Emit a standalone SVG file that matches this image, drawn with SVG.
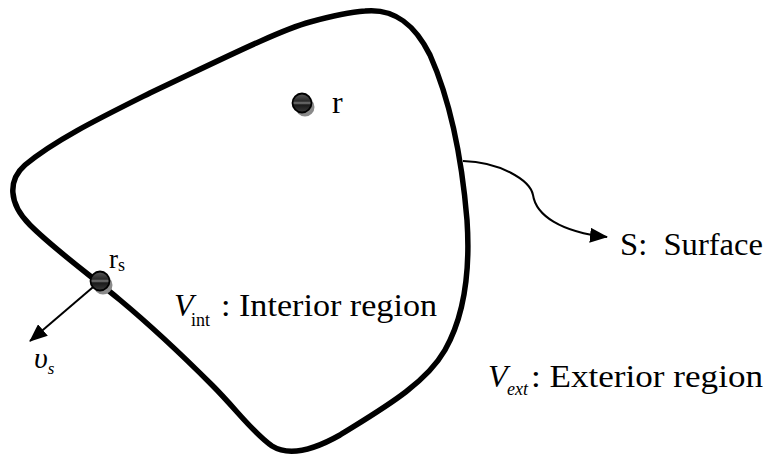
<svg xmlns="http://www.w3.org/2000/svg" width="769" height="456" viewBox="0 0 769 456">
<style>
.t{font-family:"Liberation Serif","Times New Roman",serif;fill:#000}
.i{font-style:italic}
.outline{fill:none;stroke:#000;stroke-width:5.5;stroke-linejoin:round}
.conn{fill:none;stroke:#000;stroke-width:2}
.dot{fill:url(#g);stroke:#000;stroke-width:1.8}
.shadow{fill:#8a8a8a}
</style>
<defs>
<linearGradient id="g" x1="0" y1="0" x2="0" y2="1">
<stop offset="0" stop-color="#5a5a5a"/>
<stop offset="0.4" stop-color="#2a2a2a"/>
<stop offset="0.5" stop-color="#777"/>
<stop offset="0.6" stop-color="#1a1a1a"/>
<stop offset="1" stop-color="#3a3a3a"/>
</linearGradient>
<marker id="ah" viewBox="0 0 18 15" refX="17" refY="7.5" markerWidth="18" markerHeight="15" markerUnits="userSpaceOnUse" orient="auto">
<path d="M0,0 L18,7.5 L0,15 Z" fill="#000"/>
</marker>
</defs>

<g id="surface">
<path class="outline" d="M365,11 C395,8 415,25 430,55 C450,100 462,160 467,220 C471,280 462,320 445,350 C425,385 380,410 340,435 C310,452 288,456 272,446 C252,432 237,410 212,385 C182,355 150,325 120,300 C90,275 55,250 30,225 C8,203 8,180 25,165 C55,140 100,118 150,93 C220,60 280,30 310,22 C335,15 350,12 365,11 Z"/>
</g>

<g id="connectors">
<path class="conn" d="M463,161 C500,162 530,180 533,195 C536,215 560,232 607,237" marker-end="url(#ah)"/>
<path class="conn" d="M99,282 L30,341" marker-end="url(#ah)"/>
</g>

<g id="point-r">
<circle class="shadow" cx="305" cy="107" r="9.5"/>
<circle class="dot" cx="302" cy="103" r="9.5"/>
<text class="t" x="332" y="113" font-size="32">r</text>
</g>

<g id="point-rs">
<circle class="shadow" cx="103" cy="285" r="9.5"/>
<circle class="dot" cx="100" cy="281" r="9.5"/>
<text class="t" x="109" y="268" font-size="27">r<tspan font-size="18" dy="3">s</tspan></text>
</g>

<g id="normal-label">
<text class="t i" x="34" y="368" font-size="30">υ<tspan font-size="17" dy="6">s</tspan></text>
</g>

<g id="label-surface">
<text class="t" x="620" y="255" font-size="32" textLength="143" lengthAdjust="spacingAndGlyphs" xml:space="preserve">S:  Surface</text>
</g>

<g id="label-interior">
<text class="t i" x="174" y="316" font-size="32">V</text>
<text class="t" x="191" y="326" font-size="18">int</text>
<text class="t" x="221" y="316" font-size="32" textLength="216" lengthAdjust="spacingAndGlyphs">: Interior region</text>
</g>

<g id="label-exterior">
<text class="t i" x="488" y="387" font-size="32">V</text>
<text class="t i" x="507" y="395" font-size="18">ext</text>
<text class="t" x="531" y="387" font-size="32" textLength="232" lengthAdjust="spacingAndGlyphs">: Exterior region</text>
</g>
</svg>
